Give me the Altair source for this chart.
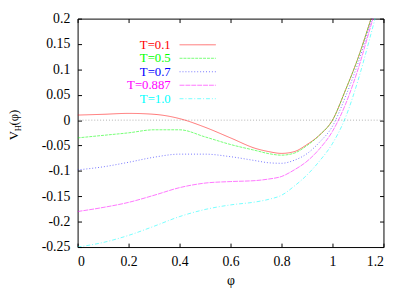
import altair as alt
import pandas as pd

phi = [0, 0.1, 0.2, 0.3, 0.4, 0.5, 0.6, 0.7, 0.75, 0.8, 0.85, 0.9, 0.95, 1.0, 1.05, 1.1, 1.15, 1.18]
v_t01 = [0.010, 0.0115, 0.0133, 0.0115, 0.003, -0.014, -0.035, -0.056, -0.062, -0.0655, -0.062, -0.048, -0.029, 0.000, 0.058, 0.122, 0.198, 0.245]
v_t05 = [-0.035, -0.030, -0.025, -0.019, -0.019, -0.033, -0.048, -0.060, -0.066, -0.069, -0.065, -0.050, -0.029, 0.000, 0.058, 0.122, 0.198, 0.245]
v_t07 = [-0.098, -0.092, -0.083, -0.073, -0.067, -0.067, -0.072, -0.080, -0.084, -0.085, -0.079, -0.066, -0.043, -0.012, 0.045, 0.112, 0.192, 0.240]
v_t0887 = [-0.180, -0.172, -0.162, -0.148, -0.133, -0.124, -0.121, -0.119, -0.116, -0.111, -0.098, -0.081, -0.056, -0.022, 0.030, 0.100, 0.185, 0.235]
v_t10 = [-0.250, -0.241, -0.227, -0.209, -0.190, -0.176, -0.167, -0.161, -0.156, -0.148, -0.130, -0.108, -0.080, -0.046, 0.004, 0.078, 0.168, 0.225]

labels = ["T=0.1", "T=0.5", "T=0.7", "T=0.887", "T=1.0"]
colors = ["#ff0000", "#00ff00", "#0000ff", "#ff00ff", "#00ffff"]
dashes = [[1, 0], [3, 1], [1, 2], [5, 1], [4, 2, 1, 2]]

x_ticks = [0, 0.2, 0.4, 0.6, 0.8, 1.0, 1.2]
y_ticks = [-0.25, -0.2, -0.15, -0.1, -0.05, 0, 0.05, 0.1, 0.15, 0.2]

series = [v_t01, v_t05, v_t07, v_t0887, v_t10]
rows = []
for lab, vals in zip(labels, series):
    for p, v in zip(phi, vals):
        rows.append({"phi": p, "V": v, "T": lab})
df = pd.DataFrame(rows)
leg = pd.DataFrame({"T": labels})

W, H = 312, 233
FONT = "Liberation Serif"
xs = alt.Scale(domain=[0, 1.2], nice=False, zero=False)
ys = alt.Scale(domain=[-0.25, 0.2], nice=False, zero=False)
cs = alt.Scale(domain=labels, range=colors)
ds = alt.Scale(domain=labels, range=dashes)
lab_expr = "'' + datum.value"

lines = alt.Chart(df).mark_line(clip=True, strokeWidth=1, opacity=0.55, interpolate="monotone").encode(
    x=alt.X("phi:Q", scale=xs, axis=alt.Axis(orient="bottom", values=x_ticks, ticks=False, domain=False, grid=False,
                                             labelExpr=lab_expr, labelPadding=8, labelFontSize=14, labelFont=FONT,
                                             labelColor="black", title="φ", titleFont=FONT, titleFontSize=14,
                                             titleFontWeight="normal", titlePadding=5, titleColor="black")),
    y=alt.Y("V:Q", scale=ys, axis=alt.Axis(orient="left", values=y_ticks, ticks=False, domain=False, grid=False,
                                           labelExpr=lab_expr, labelPadding=8, labelFontSize=14, labelFont=FONT,
                                           labelColor="black", title=None)),
    color=alt.Color("T:N", scale=cs, legend=None),
    strokeDash=alt.StrokeDash("T:N", scale=ds, legend=None),
    detail="T:N",
)

tick_ax = dict(labels=False, domain=False, grid=False, ticks=True, tickSize=4, tickColor="black", title=None)
ticks_a = alt.Chart(df).mark_line(opacity=0).encode(
    x=alt.X("phi:Q", scale=xs, axis=alt.Axis(orient="top", offset=-H, values=x_ticks, **tick_ax)),
    y=alt.Y("V:Q", scale=ys, axis=alt.Axis(orient="right", offset=-W, values=y_ticks, **tick_ax)),
)
ticks_b = alt.Chart(df).mark_line(opacity=0).encode(
    x=alt.X("phi:Q", scale=xs, axis=alt.Axis(orient="bottom", offset=-H, values=x_ticks, **tick_ax)),
    y=alt.Y("V:Q", scale=ys, axis=alt.Axis(orient="left", offset=-W, values=y_ticks, **tick_ax)),
)

zero = alt.Chart(pd.DataFrame({"V": [0]})).mark_rule(color="#b0b0b0", strokeDash=[1, 2], strokeWidth=1).encode(
    y=alt.Y("V:Q", scale=ys, axis=None)
)

leg_y = alt.Scale(type="point", domain=labels, range=[26.7, 81.7], padding=0)
leg_text = alt.Chart(leg).mark_text(align="right", baseline="middle", font=FONT, fontSize=13).encode(
    x=alt.value(95),
    y=alt.Y("T:N", scale=leg_y, axis=None),
    text="T:N",
    color=alt.Color("T:N", scale=cs, legend=None),
)
leg_rule = alt.Chart(leg).mark_rule(strokeWidth=1, opacity=0.55).encode(
    x=alt.value(104),
    x2=alt.value(141),
    y=alt.Y("T:N", scale=leg_y, axis=None),
    color=alt.Color("T:N", scale=cs, legend=None),
    strokeDash=alt.StrokeDash("T:N", scale=ds, legend=None),
)

tdf = pd.DataFrame({"a": [0]})
t_v = alt.Chart(tdf).mark_text(text="V", angle=270, align="left", baseline="alphabetic", font=FONT, fontSize=13).encode(
    x=alt.value(-61), y=alt.value(124))
t_h = alt.Chart(tdf).mark_text(text="H", angle=270, align="left", baseline="alphabetic", font=FONT, fontSize=9).encode(
    x=alt.value(-58), y=alt.value(115))
t_p = alt.Chart(tdf).mark_text(text="(φ)", angle=270, align="left", baseline="alphabetic", font=FONT, fontSize=13).encode(
    x=alt.value(-61), y=alt.value(109))

chart = alt.layer(zero, lines, ticks_a, ticks_b, leg_rule, leg_text, t_v, t_h, t_p).resolve_scale(
    y="independent"
).resolve_axis(x="independent", y="independent").properties(
    width=W, height=H,
    autosize=alt.AutoSizeParams(type="none"),
    padding={"left": 71, "top": 8, "right": 24, "bottom": 42},
).configure_view(stroke="black", strokeWidth=1)

chart.save("out.html", embed_options={"renderer": "svg", "actions": False})
